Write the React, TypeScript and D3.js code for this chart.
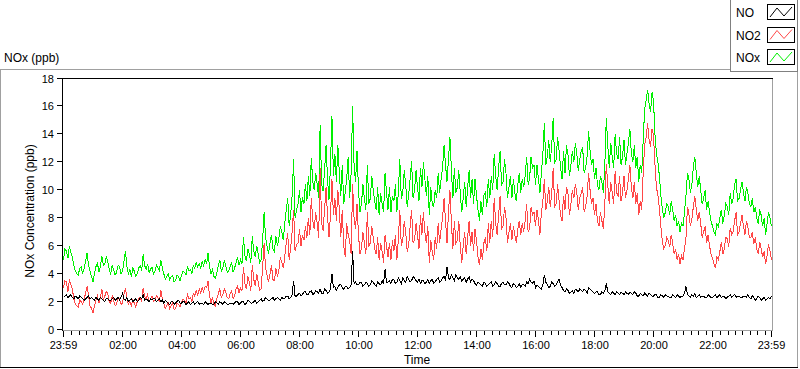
import React from 'react';
import * as d3 from 'd3';

// samples every 3 minutes starting at 23:59 of the previous day:
// "*At" values fall on even 6-minute marks, "*Mid" values fall 3 minutes later
const STEP_MIN = 3;

const NOxAt: number[] = [
  5.0, 5.6, 6.0, 5.2, 4.2, 3.9, 4.5, 4.4, 5.5, 4.2,
  3.4, 4.5, 4.1, 5.3, 4.7, 4.9, 4.0, 4.3, 4.1, 4.5,
  4.2, 5.6, 4.0, 3.8, 4.2, 4.0, 4.6, 5.4, 4.3, 4.1,
  4.5, 4.2, 4.4, 5.0, 4.0, 3.8, 3.6, 3.9, 3.5, 3.8,
  3.9, 4.1, 4.5, 4.3, 4.6, 4.8, 4.7, 4.9, 5.0, 5.5,
  4.0, 3.8, 4.1, 5.0, 4.4, 4.6, 4.2, 4.8, 4.4, 5.2,
  5.0, 6.6, 4.9, 5.4, 6.7, 5.2, 5.4, 5.0, 8.4, 6.0,
  6.2, 5.8, 6.7, 6.5, 7.0, 7.6, 9.4, 8.2, 12.2, 8.6,
  10.0, 9.5, 10.4, 11.0, 12.3, 10.0, 10.4, 14.7, 9.9, 13.2,
  9.3, 15.3, 12.6, 13.2, 9.6, 9.0, 10.8, 9.4, 16.0, 10.6,
  10.0, 9.0, 9.4, 11.8, 9.4, 10.0, 8.6, 8.2, 9.0, 11.2,
  8.6, 8.4, 9.2, 8.4, 12.2, 9.8, 10.4, 9.6, 12.1, 10.0,
  10.2, 11.6, 12.0, 9.6, 8.2, 9.0, 10.0, 11.2, 10.8, 13.2,
  10.6, 13.8, 9.4, 9.8, 11.4, 8.4, 10.6, 10.2, 9.4, 9.0,
  9.6, 7.8, 8.2, 9.8, 10.8, 11.0, 12.6, 10.0, 12.8, 10.6,
  11.2, 10.2, 9.4, 9.8, 10.4, 9.8, 10.2, 12.4, 10.8, 11.6,
  10.4, 10.8, 11.2, 14.8, 12.4, 12.0, 15.2, 12.2, 12.8, 10.8,
  11.2, 12.6, 11.8, 12.0, 12.6, 12.2, 13.0, 11.6, 14.2, 11.8,
  10.8, 10.4, 11.0, 9.8, 15.2, 11.6, 12.4, 14.0, 12.2, 11.8,
  13.6, 12.6, 14.4, 12.0, 11.6, 10.6, 11.2, 15.8, 17.2, 15.6,
  16.4, 12.6, 11.0, 8.6, 8.4, 8.8, 9.2, 7.8, 7.4, 7.0,
  7.4, 9.6, 10.8, 10.4, 12.4, 10.2, 10.0, 9.4, 8.6, 8.4,
  7.4, 6.8, 7.4, 8.6, 8.2, 8.8, 9.8, 9.4, 10.8, 9.4,
  10.6, 9.2, 9.8, 8.8, 8.4, 8.0, 8.6, 7.4, 6.8, 8.4,
  7.4,
];
const NOxMid: number[] = [
  5.8, 5.1, 5.5, 4.6, 4.0, 4.4, 4.0, 4.9, 4.6, 3.8,
  4.0, 4.8, 4.5, 4.6, 5.2, 4.3, 4.6, 3.9, 4.6, 4.0,
  4.9, 4.5, 4.3, 4.4, 3.8, 4.4, 4.2, 4.6, 4.7, 4.3,
  4.0, 4.6, 4.2, 4.4, 3.6, 4.0, 3.8, 3.4, 3.9, 3.5,
  4.2, 3.9, 4.2, 4.0, 4.4, 4.5, 4.4, 4.6, 4.7, 4.5,
  4.3, 3.7, 4.6, 4.2, 4.9, 4.1, 4.5, 4.1, 4.8, 4.6,
  4.7, 5.3, 5.8, 4.8, 5.6, 6.0, 4.8, 6.4, 6.6, 5.4,
  6.8, 5.6, 6.0, 7.4, 6.4, 8.6, 7.4, 9.6, 8.0, 9.0,
  8.4, 9.0, 9.2, 9.6, 10.6, 11.2, 9.4, 10.4, 11.4, 10.8,
  11.8, 11.0, 10.6, 11.2, 11.8, 9.8, 12.4, 11.2, 11.8, 12.8,
  8.4, 10.4, 8.6, 9.0, 11.0, 9.2, 10.2, 9.8, 8.4, 9.8,
  10.2, 9.6, 10.4, 9.8, 9.4, 11.4, 8.8, 10.8, 9.4, 11.4,
  9.2, 10.2, 10.8, 11.0, 10.2, 8.8, 9.4, 9.8, 11.6, 11.8,
  12.2, 11.4, 11.6, 10.2, 9.8, 9.4, 8.8, 11.4, 10.8, 10.8,
  8.6, 9.2, 9.6, 8.8, 9.4, 10.0, 11.0, 11.6, 10.4, 12.2,
  9.4, 11.0, 10.8, 9.2, 11.2, 10.8, 11.0, 10.4, 12.4, 11.8,
  11.8, 9.8, 12.6, 11.8, 13.6, 13.2, 12.0, 13.8, 11.6, 12.8,
  13.2, 11.0, 12.8, 13.4, 11.4, 12.8, 11.2, 12.4, 12.8, 12.2,
  11.6, 10.0, 10.6, 11.8, 13.2, 13.4, 11.6, 12.6, 13.8, 12.4,
  11.8, 13.4, 12.6, 13.2, 12.4, 11.8, 13.6, 16.4, 16.2, 17.0,
  14.0, 12.0, 9.6, 8.0, 9.0, 8.2, 8.6, 8.2, 7.8, 7.6,
  8.4, 11.2, 9.8, 11.6, 11.2, 11.0, 9.0, 10.0, 9.2, 7.8,
  7.0, 7.6, 8.0, 7.6, 9.0, 8.2, 9.0, 10.4, 9.2, 10.0,
  9.8, 10.2, 9.0, 9.4, 8.8, 7.6, 8.2, 8.0, 7.6, 8.0,
];

const NO2At: number[] = [
  3.0, 3.4, 3.6, 2.9, 1.8, 1.6, 2.0, 2.2, 3.1, 1.7,
  1.2, 2.1, 1.9, 2.9, 2.4, 2.6, 1.9, 2.1, 1.8, 2.2,
  1.9, 3.0, 1.8, 1.7, 1.9, 2.0, 2.3, 3.0, 2.2, 2.0,
  2.4, 2.1, 2.3, 2.8, 1.9, 1.7, 1.5, 1.9, 1.5, 1.8,
  1.9, 2.1, 2.5, 2.3, 2.6, 2.8, 2.9, 3.0, 3.1, 3.5,
  1.9, 1.8, 2.2, 2.9, 2.5, 2.7, 2.2, 2.8, 2.4, 3.1,
  3.0, 4.5, 2.9, 3.4, 4.6, 3.1, 3.4, 2.9, 6.2, 3.9,
  4.0, 3.6, 4.4, 4.2, 4.8, 5.2, 6.9, 5.8, 8.6, 6.1,
  7.2, 6.8, 7.4, 8.0, 9.4, 7.2, 7.6, 11.6, 7.1, 10.2,
  6.6, 10.8, 9.4, 10.0, 6.6, 6.0, 7.6, 6.4, 10.4, 7.2,
  6.8, 5.8, 6.2, 8.4, 6.2, 6.6, 5.4, 5.0, 5.6, 6.8,
  5.2, 5.0, 5.6, 5.0, 8.6, 6.4, 7.0, 6.0, 8.6, 6.4,
  6.8, 8.2, 8.4, 6.2, 4.8, 5.6, 6.6, 7.6, 7.2, 9.4,
  6.2, 10.0, 5.8, 6.2, 7.8, 4.8, 7.0, 6.6, 6.0, 5.6,
  6.4, 4.6, 5.0, 6.6, 7.6, 7.8, 9.4, 6.8, 9.6, 7.4,
  8.0, 7.0, 6.4, 6.8, 7.2, 6.8, 7.0, 9.0, 7.2, 8.2,
  7.4, 7.8, 8.4, 10.8, 9.2, 8.8, 11.6, 9.0, 9.2, 7.8,
  8.6, 9.8, 9.0, 9.4, 9.8, 9.4, 10.2, 8.8, 11.2, 9.0,
  8.2, 7.8, 8.4, 7.2, 11.9, 9.0, 9.8, 11.4, 9.6, 9.2,
  11.0, 10.0, 11.8, 9.4, 9.0, 8.2, 8.6, 13.2, 14.8, 13.1,
  13.9, 10.2, 8.7, 6.3, 6.0, 6.4, 6.8, 5.4, 5.0, 4.7,
  5.0, 6.5, 8.3, 7.9, 9.6, 7.8, 7.6, 7.0, 6.2, 6.0,
  5.1, 4.4, 5.0, 6.3, 5.8, 6.5, 7.3, 7.0, 8.4, 7.0,
  8.2, 6.8, 7.3, 6.6, 6.1, 5.8, 6.3, 5.2, 4.7, 6.1,
  5.0,
];
const NO2Mid: number[] = [
  3.5, 2.7, 3.2, 2.2, 1.7, 2.1, 1.8, 2.6, 2.4, 1.5,
  1.7, 2.4, 2.3, 2.1, 2.7, 2.0, 2.4, 1.7, 2.3, 1.8,
  2.5, 2.2, 2.0, 2.1, 1.6, 2.2, 2.0, 2.4, 2.5, 2.2,
  2.0, 2.4, 2.0, 2.2, 1.5, 1.9, 1.7, 1.4, 1.9, 1.6,
  2.2, 1.9, 2.2, 2.0, 2.4, 2.5, 2.6, 2.7, 3.0, 2.4,
  2.3, 1.7, 2.6, 2.3, 2.9, 2.3, 2.6, 2.2, 2.9, 2.6,
  2.8, 3.3, 3.8, 2.8, 3.6, 4.0, 2.8, 4.5, 4.4, 3.4,
  4.6, 3.5, 3.8, 5.2, 4.4, 6.2, 5.0, 7.0, 5.6, 6.2,
  6.0, 6.4, 6.6, 6.8, 7.8, 8.4, 6.6, 7.6, 8.6, 8.2,
  8.2, 8.2, 7.8, 8.6, 8.6, 5.2, 6.8, 5.4, 8.0, 9.0,
  5.4, 7.0, 5.4, 6.0, 7.4, 5.8, 6.6, 6.2, 4.8, 6.0,
  6.2, 6.4, 6.8, 6.4, 6.0, 7.8, 5.6, 7.4, 6.2, 7.6,
  5.8, 6.8, 7.0, 7.4, 6.4, 5.0, 5.8, 6.2, 8.0, 7.8,
  8.4, 7.6, 7.8, 6.4, 6.0, 6.0, 5.4, 7.8, 7.0, 7.2,
  5.2, 5.8, 6.2, 5.6, 6.2, 6.6, 7.6, 8.2, 7.2, 8.8,
  6.2, 7.6, 7.4, 6.2, 7.8, 7.6, 7.8, 7.0, 8.8, 8.4,
  8.6, 6.8, 9.2, 8.6, 10.2, 9.8, 8.8, 10.4, 8.2, 9.6,
  10.2, 8.2, 10.0, 10.4, 8.6, 9.8, 8.4, 9.6, 10.0, 9.4,
  9.0, 7.4, 7.8, 9.0, 10.4, 10.6, 9.0, 9.8, 11.0, 9.8,
  9.4, 10.8, 10.2, 10.6, 9.8, 9.2, 11.2, 13.8, 13.6, 14.4,
  11.8, 9.6, 7.4, 5.8, 6.6, 5.9, 6.2, 5.8, 5.4, 5.3,
  5.8, 8.8, 7.4, 8.8, 8.6, 8.4, 6.6, 7.4, 6.8, 5.4,
  4.7, 5.2, 5.6, 5.4, 6.6, 5.9, 6.8, 7.8, 6.8, 7.6,
  7.4, 7.8, 6.6, 7.0, 6.6, 5.4, 5.8, 5.6, 5.3, 5.6,
];

const NOAt: number[] = [
  2.3, 2.5, 2.4, 2.3, 2.4, 2.2, 2.3, 2.1, 2.3, 2.2,
  2.2, 2.3, 2.1, 2.2, 2.0, 2.2, 2.1, 2.3, 2.2, 2.1,
  2.6, 2.1, 2.0, 2.2, 2.1, 2.0, 2.3, 2.5, 2.2, 2.0,
  2.1, 2.2, 2.1, 2.0, 1.9, 2.0, 1.8, 2.0, 1.9, 2.1,
  1.9, 2.0, 1.9, 1.8, 2.0, 1.9, 1.8, 1.9, 2.0, 1.8,
  1.9, 1.8, 1.9, 2.0, 1.8, 1.9, 1.8, 1.9, 1.9, 2.0,
  1.9, 2.0, 1.9, 2.0, 1.9, 2.1, 2.0, 2.2, 2.1, 2.2,
  2.1, 2.3, 2.2, 2.2, 2.3, 2.2, 2.4, 2.3, 3.5, 2.4,
  2.6, 2.5, 2.7, 2.5, 2.8, 2.6, 2.7, 2.9, 2.6, 2.8,
  2.7, 4.0, 3.1, 3.0, 3.2, 2.9, 3.1, 3.0, 5.6, 3.4,
  3.2, 3.4, 3.2, 3.3, 3.2, 3.4, 3.1, 3.3, 3.5, 4.3,
  3.4, 3.3, 3.6, 3.4, 3.5, 3.7, 3.4, 3.6, 3.5, 3.7,
  3.4, 3.3, 3.5, 3.4, 3.3, 3.6, 3.4, 3.7, 3.5, 3.8,
  4.5, 3.6, 3.7, 3.9, 3.6, 3.5, 3.7, 3.6, 3.4, 3.5,
  3.2, 3.3, 3.1, 3.3, 3.2, 3.4, 3.2, 3.3, 3.1, 3.4,
  3.2, 3.3, 3.0, 3.2, 3.1, 3.0, 3.2, 3.4, 3.6, 3.3,
  3.0, 3.1, 2.9, 3.9, 3.2, 3.1, 3.3, 3.2, 3.6, 3.0,
  2.7, 2.8, 2.7, 2.6, 2.8, 2.9, 2.7, 2.8, 3.0, 2.8,
  2.6, 2.7, 2.5, 2.6, 3.3, 2.6, 2.7, 2.5, 2.6, 2.7,
  2.5, 2.6, 2.7, 2.5, 2.6, 2.4, 2.5, 2.6, 2.4, 2.5,
  2.4, 2.5, 2.3, 2.4, 2.5, 2.4, 2.3, 2.4, 2.5, 2.3,
  2.4, 3.1, 2.4, 2.5, 2.6, 2.4, 2.3, 2.4, 2.3, 2.4,
  2.3, 2.5, 2.4, 2.3, 2.4, 2.3, 2.5, 2.4, 2.3, 2.4,
  2.3, 2.4, 2.5, 2.2, 2.3, 2.2, 2.3, 2.2, 2.1, 2.3,
  2.4,
];
const NOMid: number[] = [
  2.4, 2.3, 2.5, 2.2, 2.3, 2.4, 2.2, 2.2, 2.4, 2.3,
  2.1, 2.2, 2.3, 2.1, 2.2, 2.1, 2.2, 2.1, 2.3, 2.3,
  2.2, 2.3, 2.1, 2.0, 2.2, 2.1, 2.2, 2.1, 2.1, 2.2,
  2.2, 2.0, 2.2, 2.1, 2.1, 1.9, 2.0, 1.8, 2.0, 1.9,
  2.0, 1.8, 2.0, 1.9, 1.8, 2.0, 1.9, 1.8, 1.9, 1.9,
  1.8, 2.0, 1.8, 1.9, 2.0, 1.8, 1.9, 1.8, 2.0, 1.8,
  2.0, 1.8, 2.1, 1.9, 2.0, 1.9, 2.1, 2.0, 2.3, 2.1,
  2.2, 2.1, 2.3, 2.1, 2.2, 2.4, 2.2, 2.5, 2.4, 2.5,
  2.4, 2.7, 2.5, 2.7, 2.5, 2.8, 2.6, 2.6, 2.9, 2.6,
  2.9, 3.0, 2.8, 3.2, 3.0, 3.1, 2.9, 3.2, 3.3, 3.2,
  3.4, 3.1, 3.4, 3.1, 3.5, 3.2, 3.4, 3.2, 3.3, 3.4,
  3.5, 3.6, 3.3, 3.7, 3.3, 3.5, 3.8, 3.4, 3.8, 3.5,
  3.6, 3.5, 3.3, 3.6, 3.5, 3.3, 3.6, 3.4, 3.7, 3.5,
  3.7, 3.9, 3.5, 3.7, 3.8, 3.6, 3.4, 3.8, 3.6, 3.3,
  3.4, 3.2, 3.4, 3.1, 3.3, 3.1, 3.4, 3.1, 3.3, 3.2,
  3.4, 3.1, 3.3, 3.0, 3.3, 3.2, 3.1, 3.3, 3.4, 3.5,
  3.2, 3.0, 3.2, 3.4, 3.0, 3.4, 3.1, 3.4, 3.2, 2.8,
  2.9, 2.6, 2.8, 2.9, 2.7, 2.8, 2.9, 2.6, 2.9, 2.7,
  2.7, 2.5, 2.7, 2.8, 2.7, 2.5, 2.6, 2.7, 2.5, 2.6,
  2.7, 2.5, 2.6, 2.7, 2.4, 2.6, 2.4, 2.5, 2.6, 2.4,
  2.5, 2.3, 2.5, 2.3, 2.4, 2.3, 2.5, 2.3, 2.4, 2.4,
  2.6, 2.5, 2.3, 2.4, 2.3, 2.5, 2.4, 2.3, 2.5, 2.3,
  2.4, 2.3, 2.5, 2.4, 2.2, 2.4, 2.3, 2.5, 2.4, 2.3,
  2.4, 2.3, 2.3, 2.4, 2.1, 2.4, 2.1, 2.3, 2.2, 2.2,
];

const yTicks: number[] = [0, 2, 4, 6, 8, 10, 12, 14, 16, 18];
const xMajorLabels: string[] = ['23:59', '02:00', '04:00', '06:00', '08:00', '10:00', '12:00', '14:00', '16:00', '18:00', '20:00', '22:00', '23:59'];
const xMajorMinutes: number[] = [0, 121, 241, 361, 481, 601, 721, 841, 961, 1081, 1201, 1321, 1440];
const legendNames: string[] = ['NO', 'NO2', 'NOx'];
const seriesColors: string[] = ['#000000', '#FF4848', '#00F000'];

const FONT = '"Liberation Sans", Arial, sans-serif';

function merge(at: number[], mid: number[]): number[] {
  const out: number[] = [];
  at.forEach((v, i) => {
    out.push(v);
    if (i < mid.length) out.push(mid[i]);
  });
  return out;
}

export default function App() {
  const x = d3.scaleLinear().domain([0, 1440]).range([63.5, 771.5]);
  const y = d3.scaleLinear().domain([0, 18]).range([329.5, 78.5]);
  const line = d3
    .line<number>()
    .x((_, i) => x(i * STEP_MIN))
    .y((d) => y(d));

  const minor: number[] = d3
    .range(1, 1440, 15)
    .filter((m) => !xMajorMinutes.some((M) => Math.abs(M - m) < 3));

  const series = [merge(NOAt, NOMid), merge(NO2At, NO2Mid), merge(NOxAt, NOxMid)];
  const drawOrder = [2, 1, 0];

  return (
    <svg
      width={800}
      height={369}
      style={{ position: 'absolute', left: 0, top: 0, background: '#fff' }}
      fontFamily={FONT}
    >
      <line x1={0} y1={69.5} x2={731} y2={69.5} stroke="#A0A0A0" />
      <line x1={0.5} y1={69} x2={0.5} y2={368} stroke="#A0A0A0" />
      <line x1={797.5} y1={71} x2={797.5} y2={368} stroke="#A0A0A0" />
      <line x1={0} y1={367.5} x2={798} y2={367.5} stroke="#000" />

      <text x={4} y={62} fontSize={12} fill="#000">NOx (ppb)</text>

      <rect x={62.5} y={78.5} width={710} height={251.5} fill="#fff" stroke="none" />
      <line x1={62} y1={78.5} x2={773} y2={78.5} stroke="#000" />
      <line x1={62.5} y1={78} x2={62.5} y2={331} stroke="#000" />
      <line x1={772.5} y1={79} x2={772.5} y2={331} stroke="#A0A0A0" />
      <line x1={63} y1={330.5} x2={773} y2={330.5} stroke="#A0A0A0" />

      {yTicks.map((t) => (
        <g key={'y' + t}>
          <line x1={57} x2={62} y1={Math.round(y(t)) - 0.5} y2={Math.round(y(t)) - 0.5} stroke="#000" />
          <text x={54} y={y(t) + 4} fontSize={11} textAnchor="end" fill="#000">{t}</text>
        </g>
      ))}
      <text
        transform={`translate(34,${(y(0) + y(18)) / 2 + 7}) rotate(-90)`}
        fontSize={12}
        textAnchor="middle"
        fill="#000"
      >
        NOx Concentration (ppb)
      </text>

      {minor.map((m) => (
        <line key={'m' + m} x1={Math.round(x(m)) + 0.5} x2={Math.round(x(m)) + 0.5} y1={331} y2={335} stroke="#000" />
      ))}
      {xMajorMinutes.map((m, i) => (
        <g key={'M' + m}>
          <line x1={Math.floor(x(m)) + 0.5} x2={Math.floor(x(m)) + 0.5} y1={331} y2={337} stroke="#000" />
          <text x={x(m)} y={349} fontSize={11} textAnchor="middle" fill="#000">{xMajorLabels[i]}</text>
        </g>
      ))}
      <text x={417} y={364} fontSize={12} textAnchor="middle" fill="#000">Time</text>

      {drawOrder.map((k) => (
        <path
          key={'s' + k}
          d={line(series[k]) || ''}
          fill="none"
          stroke={seriesColors[k]}
          strokeWidth={1}
          shapeRendering="crispEdges"
        />
      ))}

      <rect x={730.5} y={-0.5} width={67} height={72} fill="#fff" stroke="#808080" />
      {legendNames.map((n, i) => {
        const top = 4 + i * 22.5;
        const sx = 767;
        return (
          <g key={n}>
            <text x={736} y={top + 13} fontSize={12} fill="#000">{n}</text>
            <rect x={sx + 0.5} y={Math.round(top) + 0.5} width={27} height={15} fill="#fff" stroke="#000" />
            <polyline
              points={`${sx + 3},${top + 13} ${sx + 10},${top + 4} ${sx + 17},${top + 12} ${sx + 25},${top + 3}`}
              fill="none"
              stroke={seriesColors[i]}
              strokeWidth={1}
            />
          </g>
        );
      })}
    </svg>
  );
}
